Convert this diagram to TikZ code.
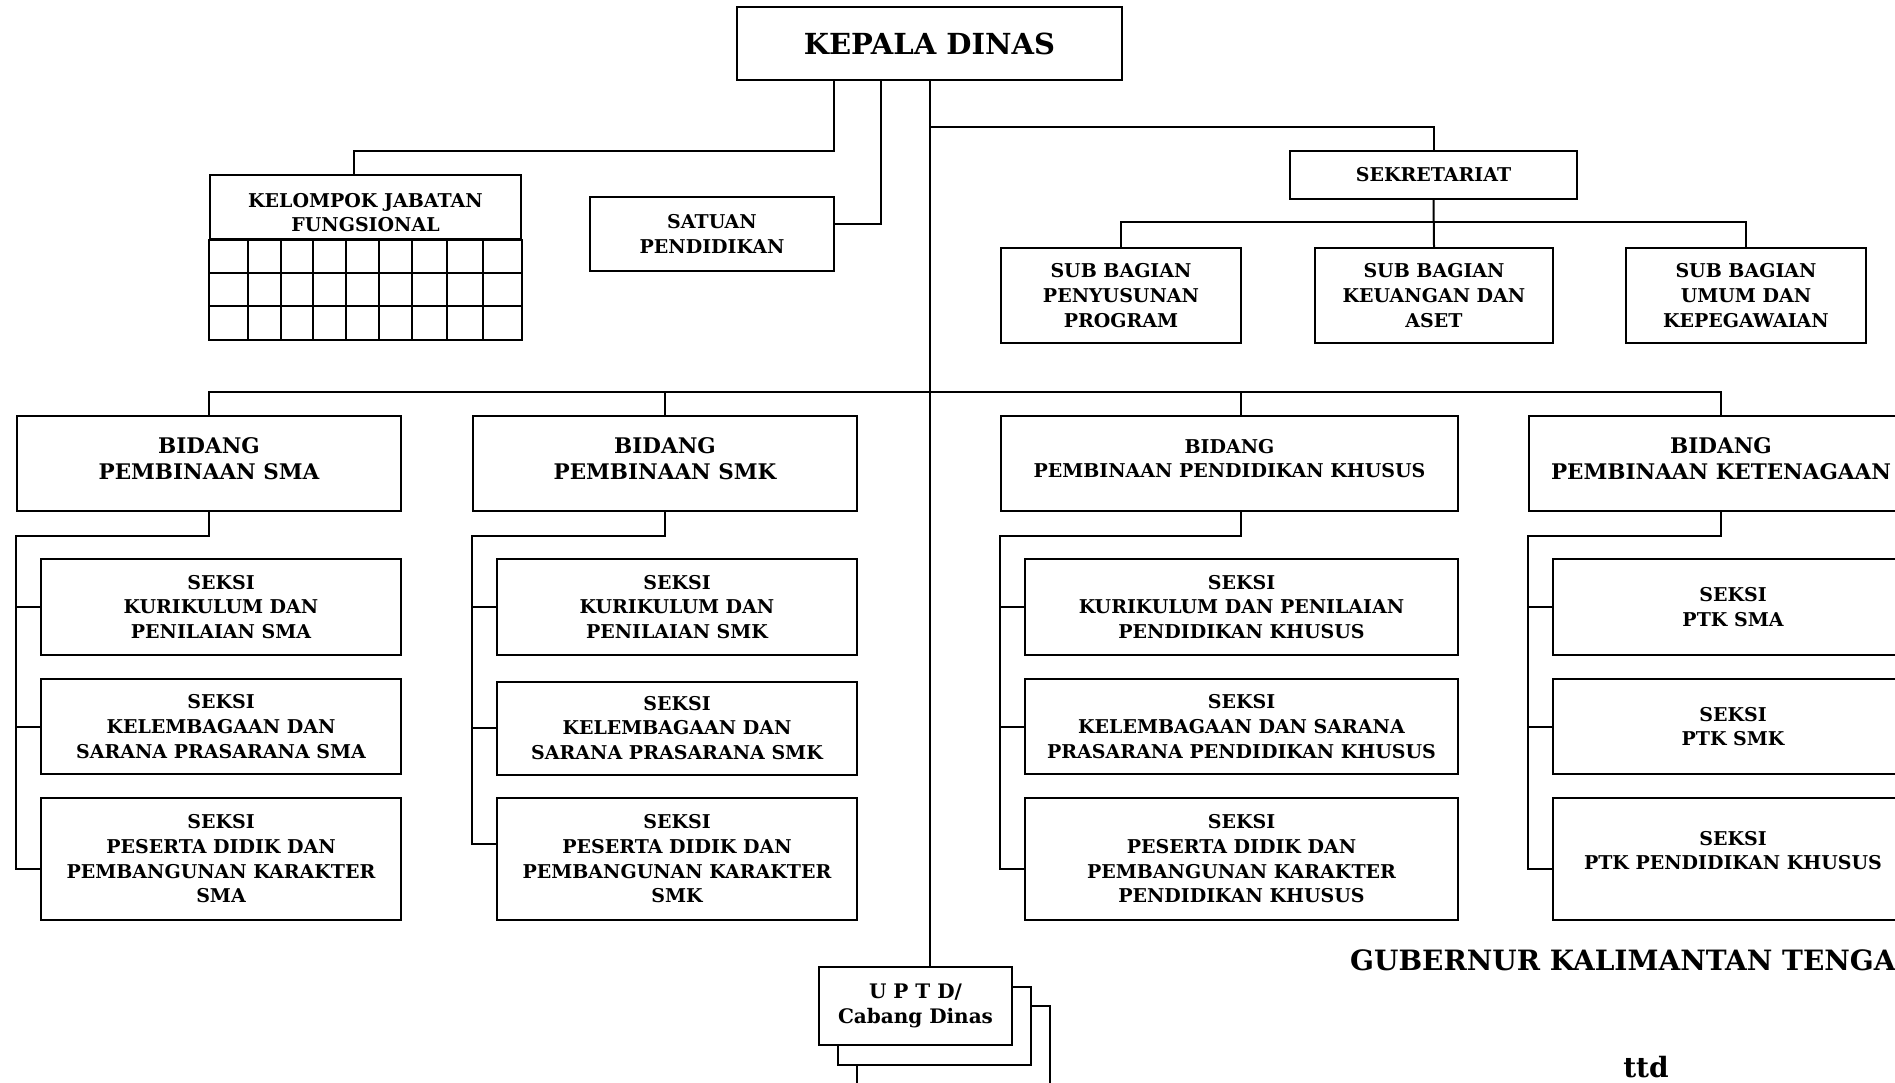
\documentclass[tikz,border=0pt]{standalone}
\usepackage{fontspec}
\setmainfont{DejaVu Serif}
\begin{document}
\begin{tikzpicture}[x=1pt,y=-1pt,
  unit/.style={draw,line width=2pt,fill=white,align=center,inner sep=0pt,
    font=\bfseries\fontsize{19}{24.7}\selectfont},
  wide/.style={font=\bfseries\fontsize{21.5}{26}\selectfont},
  big/.style={font=\bfseries\fontsize{28}{34}\selectfont},
  link/.style={line width=2pt}]
\useasboundingbox (0,0) rectangle (1895,1083);
% top level
\node[unit,big,font=\bfseries\fontsize{29}{34}\selectfont,minimum width=385,minimum height=73] (kd) at (929.5,43.5) {KEPALA DINAS};
\node[unit,minimum width=311,minimum height=64] (kjf) at (365.5,207) {\rule{0pt}{25pt}KELOMPOK JABATAN\\FUNGSIONAL};
\node[unit,minimum width=244,minimum height=74] (sp) at (712,234) {SATUAN\\PENDIDIKAN};
\node[unit,minimum width=287,minimum height=48] (sek) at (1433.5,175) {SEKRETARIAT};
\node[unit,minimum width=240,minimum height=95] (sbprog) at (1121,295.5) {SUB BAGIAN\\PENYUSUNAN\\PROGRAM};
\node[unit,minimum width=238,minimum height=95] (sbkeu) at (1434,295.5) {SUB BAGIAN\\KEUANGAN DAN\\ASET};
\node[unit,minimum width=240,minimum height=95] (sbumum) at (1746,295.5) {SUB BAGIAN\\UMUM DAN\\KEPEGAWAIAN};
% grid of kelompok jabatan fungsional
\draw[link] (kjf.south west) rectangle (kjf.east |- 0,340);
\foreach \r in {273,306}
  \draw[link] (210,\r) -- (521,\r);
\foreach \c in {248,280.5,313,345.5,378.5,412,447,483}
  \draw[link] (\c,239) -- (\c,340);
% bidang
\node[unit,wide,minimum width=384,minimum height=95,text depth=10pt] (bsma) at (209,463.5) {BIDANG\\PEMBINAAN SMA};
\node[unit,wide,minimum width=384,minimum height=95,text depth=10pt] (bsmk) at (665,463.5) {BIDANG\\PEMBINAAN SMK};
\node[unit,minimum width=457,minimum height=95,text depth=10pt] (bpk) at (1229.5,463.5) {BIDANG\\PEMBINAAN PENDIDIKAN KHUSUS};
\node[unit,wide,minimum width=384,minimum height=95,text depth=10pt] (bket) at (1721,463.5) {BIDANG\\PEMBINAAN KETENAGAAN};
% seksi
\node[unit,minimum width=360,minimum height=96] (sma1) at (221,607) {SEKSI\\KURIKULUM DAN\\PENILAIAN SMA};
\node[unit,minimum width=360,minimum height=95] (sma2) at (221,726.5) {SEKSI\\KELEMBAGAAN DAN\\SARANA PRASARANA SMA};
\node[unit,minimum width=360,minimum height=122] (sma3) at (221,859) {SEKSI\\PESERTA DIDIK DAN\\PEMBANGUNAN KARAKTER\\SMA};
\node[unit,minimum width=360,minimum height=96] (smk1) at (677,607) {SEKSI\\KURIKULUM DAN\\PENILAIAN SMK};
\node[unit,minimum width=360,minimum height=93] (smk2) at (677,728) {SEKSI\\KELEMBAGAAN DAN\\SARANA PRASARANA SMK};
\node[unit,minimum width=360,minimum height=122] (smk3) at (677,859) {SEKSI\\PESERTA DIDIK DAN\\PEMBANGUNAN KARAKTER\\SMK};
\node[unit,minimum width=433,minimum height=96] (pk1) at (1241.5,607) {SEKSI\\KURIKULUM DAN PENILAIAN\\PENDIDIKAN KHUSUS};
\node[unit,minimum width=433,minimum height=95] (pk2) at (1241.5,726.5) {SEKSI\\KELEMBAGAAN DAN SARANA\\PRASARANA PENDIDIKAN KHUSUS};
\node[unit,minimum width=433,minimum height=122] (pk3) at (1241.5,859) {SEKSI\\PESERTA DIDIK DAN\\PEMBANGUNAN KARAKTER\\PENDIDIKAN KHUSUS};
\node[unit,minimum width=360,minimum height=96] (ket1) at (1733,607) {SEKSI\\PTK SMA};
\node[unit,minimum width=360,minimum height=95] (ket2) at (1733,726.5) {SEKSI\\PTK SMK};
\node[unit,minimum width=360,minimum height=122,text depth=17pt] (ket3) at (1733,859) {SEKSI\\PTK PENDIDIKAN KHUSUS};
% uptd, stacked
\draw[link,fill=white] (857,1006) rectangle ++(193,90);
\draw[link,fill=white] (838,987) rectangle ++(193,78);
\node[unit,minimum width=193,minimum height=78,font=\bfseries\fontsize{20}{25}\selectfont] (uptd) at (915.5,1006) {U P T D/\\Cabang Dinas};
% signature
\node[big,anchor=west,inner sep=0pt] (gub) at (1350,960) {GUBERNUR KALIMANTAN TENGAH};
\node[big,inner sep=0pt] (ttd) at (1646,1067) {ttd};
% connectors
\coordinate (tapJ) at (834,151);
\coordinate (tapS) at (881,224);
\coordinate (busS) at (0,127);
\coordinate (busB) at (0,392);
\coordinate (pkx) at (1241,0);
\coordinate (sma3t) at ([yshift=-10pt]sma3.west);
\coordinate (smk3t) at ([yshift=15pt]smk3.west);
\coordinate (pk3t) at ([yshift=-10pt]pk3.west);
\coordinate (ket3t) at ([yshift=-10pt]ket3.west);
\draw[link] (kd.south -| tapJ) -- (tapJ) -| ([xshift=-11.5pt]kjf.north);
\draw[link] (kd.south -| tapS) -- (tapS) -- (sp.east |- tapS);
\draw[link] (kd.south) -- (kd.south |- uptd.north);
\draw[link] (kd.south |- busS) -| (sek.north);
\draw[link] (sek.south) -- (sbkeu.north);
\draw[link] (sbprog.north) -- ++(0,-25) -| (sbumum.north);
\draw[link] (bsma.north) |- (busB -| bket.north) -- (bket.north);
\draw[link] (bsmk.north) -- (bsmk.north |- busB);
\draw[link] (bpk.north -| pkx) -- (busB -| pkx);
\draw[link] (bsma.south) -- ++(0,24) -| (bsma.west |- sma3t) -- (sma3t);
\draw[link] (bsmk.south) -- ++(0,24) -| (bsmk.west |- smk3t) -- (smk3t);
\draw[link] (bpk.south -| pkx) -- ++(0,24) -| (bpk.west |- pk3t) -- (pk3t);
\draw[link] (bket.south) -- ++(0,24) -| (bket.west |- ket3t) -- (ket3t);
\foreach \b/\s in {bsma/sma,bsmk/smk,bpk/pk,bket/ket}
  \foreach \i in {1,2}
    \draw[link] (\b.west |- \s\i.west) -- (\s\i.west);
\end{tikzpicture}
\end{document}
